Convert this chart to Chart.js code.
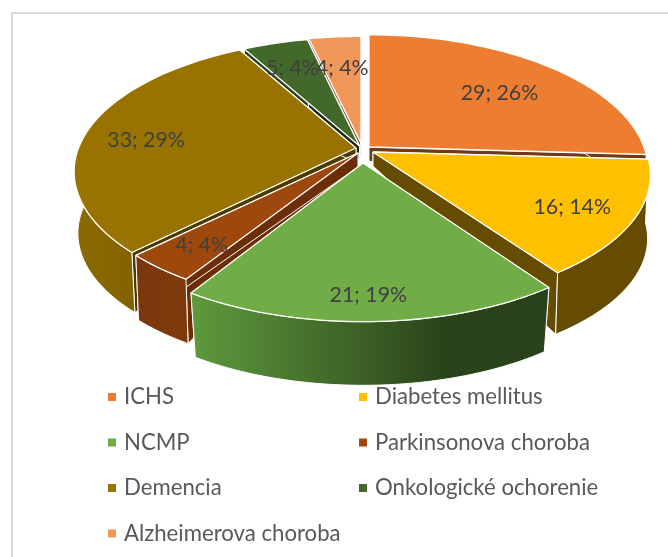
<!DOCTYPE html>
<html><head><meta charset="utf-8">
<script src="https://cdn.jsdelivr.net/npm/chart.js@4"></script>
<style>
html,body{margin:0;padding:0;background:#fff;width:668px;height:557px;overflow:hidden}
#frame{position:absolute;left:11px;top:12px;width:700px;height:600px;border:2px solid #D9D9D9;box-sizing:border-box}
canvas{position:absolute;left:0;top:0}
</style></head><body>
<div id="frame"></div>
<canvas id="c" width="668" height="557"></canvas>
<script>
const categories = ['ICHS','Diabetes mellitus','NCMP','Parkinsonova choroba','Demencia','Onkologické ochorenie','Alzheimerova choroba'];
const values = [29,16,21,4,33,5,4];
const colors = ['#ED7D31','#FFC000','#70AD47','#9E480E','#997300','#43682B','#F1975A'];
const wallLeft = ['#8a4a1d','#664C00','#5E9A3C','#7A370C','#8C6900','#2a4119','#8f5a36'];
const wallRight = ['#6f3a18','#664C00','#2A421A','#7F3A0B','#7A5C00','#2a4119','#8f5a36'];
const radialWall = ['#6f3a18','#664C00','#3a5c25','#6B2E06','#4D3A00','#1B2A11','#8f5a36'];
const explodeX = [3.5,7.5,-2.5,-7.5,-9.5,-6,-4.5];
const explodeY = [-6,-1,10,0,-5,-7,-10];
const sliceScaleX = [1,.993,1,1,1.009,1,1];
const sliceScaleY = [1,.96,.99,.96,.98,.97,.95];
const wallShrink = [.98,.99,.975,.988,.987,.98,.98];
const wallDepth = [65,64,67,67,62,65,65];
const labelRadius = [.683,.785,.85,.81,.77,.75,.683];
const labelTurn = [2,1.2,.5,0,-2.5,-.5,0];
const FONT_FAMILY = 'Lato, "Noto Sans", sans-serif';

const view = {cx:365.5, cy:153, f:275, g:132, a:.1765, shrinkY:.98, taper:14};

function topPt(i,ang,r){
  const X=r*Math.cos(ang), Y=r*Math.sin(ang), d=1-view.a*Y;
  return [view.cx+explodeX[i]+sliceScaleX[i]*view.f*X/d, view.cy+explodeY[i]+sliceScaleY[i]*view.g*Y/d];
}
function lowPt(i,p){
  return [view.cx+(p[0]-view.cx)*wallShrink[i], view.cy+(p[1]-view.cy)*view.shrinkY+wallDepth[i]];
}
function poly(ctx,pts){
  ctx.beginPath();
  pts.forEach((p,k)=>k?ctx.lineTo(p[0],p[1]):ctx.moveTo(p[0],p[1]));
  ctx.closePath();
}
const pie3d = {
  id:'pie3d',
  beforeDatasetDraw(){ return false; },
  afterDatasetsDraw(chart){
    const ctx=chart.ctx, arcs=chart.getDatasetMeta(0).data;
    const total=values.reduce((s,v)=>s+v,0);
    const order=arcs.map((e,i)=>i).sort((p,q)=>{
      const m=e=>Math.sin((e.startAngle+e.endAngle)/2);
      return m(arcs[p])-m(arcs[q]);
    });
    ctx.save();
    ctx.lineJoin='round';
    ctx.strokeStyle='#fff';
    order.forEach(i=>{
      const e=arcs[i], rim=[];
      const n=Math.max(8,Math.ceil((e.endAngle-e.startAngle)*40));
      for(let k=0;k<=n;k++) rim.push(topPt(i,e.startAngle+(e.endAngle-e.startAngle)*k/n,1));
      const apex=topPt(i,0,0);
      const lowRim=rim.map(p=>lowPt(i,p));
      const innerLow=[apex[0],apex[1]+view.taper];
      ctx.lineWidth=1;
      [[rim[0],lowRim[0]],[rim[n],lowRim[n]]].forEach(([t,b])=>{
        poly(ctx,[apex,t,b,innerLow]);
        ctx.fillStyle=radialWall[i]; ctx.fill(); ctx.stroke();
      });
      const xs=rim.map(p=>p[0]);
      const grad=ctx.createLinearGradient(Math.min(...xs),0,Math.max(...xs),0);
      grad.addColorStop(0,wallLeft[i]);
      grad.addColorStop(.72,wallRight[i]);
      grad.addColorStop(1,wallRight[i]);
      poly(ctx,rim.concat(lowRim.slice().reverse()));
      ctx.fillStyle=grad; ctx.fill(); ctx.stroke();
      ctx.lineWidth=1.3;
      poly(ctx,[apex].concat(rim));
      ctx.fillStyle=colors[i]; ctx.fill(); ctx.stroke();
    });
    ctx.fillStyle='#404040';
    ctx.font='21.3px '+FONT_FAMILY;
    ctx.textAlign='center';
    ctx.textBaseline='middle';
    arcs.forEach((e,i)=>{
      const mid=(e.startAngle+e.endAngle)/2+labelTurn[i]*Math.PI/180;
      const p=topPt(i,mid,labelRadius[i]);
      ctx.fillText(values[i]+'; '+Math.round(values[i]/total*100)+'%',p[0],p[1]+1.5);
    });
    ctx.font='22.2px '+FONT_FAMILY;
    ctx.textAlign='left';
    categories.forEach((name,i)=>{
      const col=i===6?0:i%2, row=Math.floor(i/2);
      const x=[124,375][col], y=397+row*45.5;
      ctx.fillStyle=colors[i];
      ctx.fillRect(x-16,y-4,8,8);
      ctx.fillStyle='#595959';
      ctx.fillText(name,x,y);
    });
    ctx.restore();
  }
};
new Chart(document.getElementById('c'),{
  type:'pie',
  data:{labels:categories,datasets:[{data:values,backgroundColor:colors,borderColor:'#fff'}]},
  options:{responsive:false,animation:false,
    plugins:{legend:{display:false},tooltip:{enabled:false}}},
  plugins:[pie3d]
});
</script>
</body></html>
